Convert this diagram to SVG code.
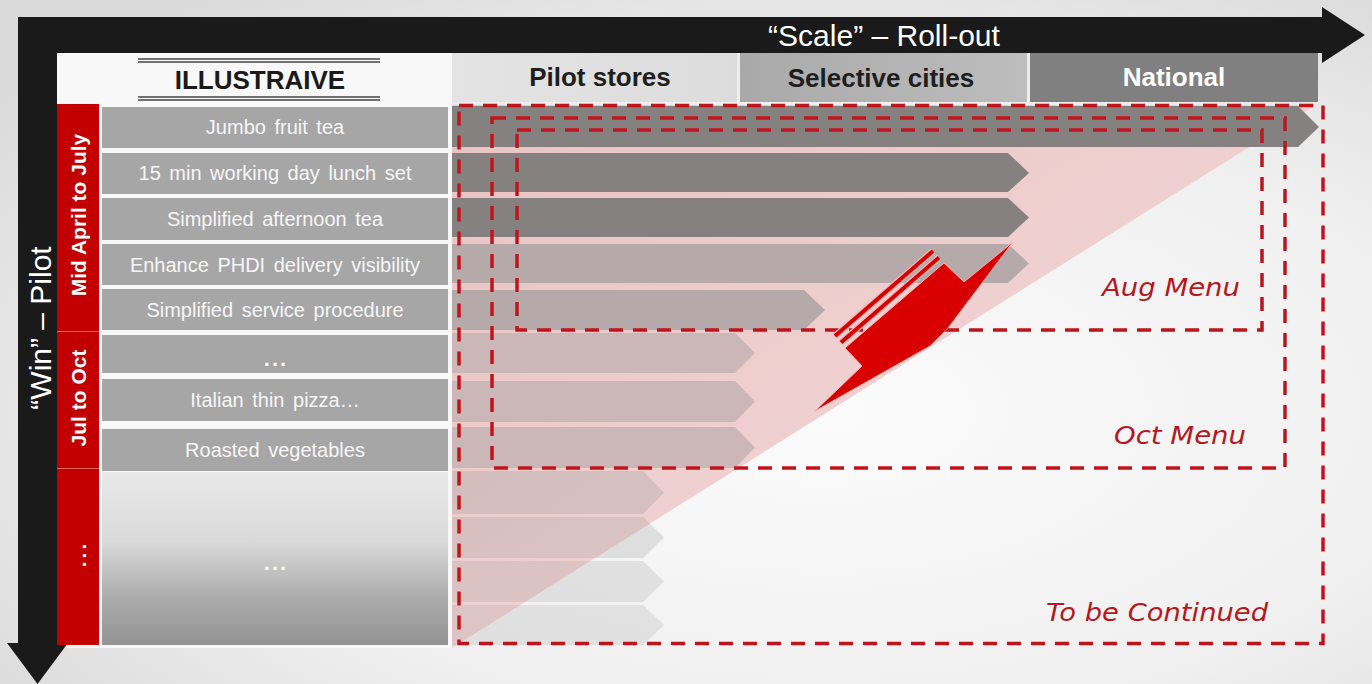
<svg xmlns="http://www.w3.org/2000/svg" width="1372" height="684" viewBox="0 0 1372 684">
  <defs>
    <radialGradient id="bg" cx="0.6" cy="0.6" r="0.75">
      <stop offset="0" stop-color="#fbfbfb"/>
      <stop offset="0.6" stop-color="#f0f0f0"/>
      <stop offset="1" stop-color="#dadada"/>
    </radialGradient>
    <linearGradient id="pink" x1="0" y1="0" x2="1" y2="1">
      <stop offset="0" stop-color="#e9c3c3"/>
      <stop offset="1" stop-color="#f5dcdc"/>
    </linearGradient>
    <linearGradient id="sel" x1="0" y1="0" x2="1" y2="0">
      <stop offset="0" stop-color="#a9a9a9"/>
      <stop offset="1" stop-color="#bdbdbd"/>
    </linearGradient>
    <linearGradient id="pil" x1="0" y1="0" x2="1" y2="0">
      <stop offset="0" stop-color="#e4e4e4"/>
      <stop offset="1" stop-color="#dcdcdc"/>
    </linearGradient>
    <linearGradient id="lastrow" x1="0" y1="0" x2="0" y2="1">
      <stop offset="0" stop-color="#e9e9e9"/>
      <stop offset="0.4" stop-color="#d9d9d9"/>
      <stop offset="0.75" stop-color="#a9a9a9"/>
      <stop offset="1" stop-color="#939393"/>
    </linearGradient>
    <style>
      .lbl { fill: #a6a6a6; }
      .lt { font-family: "Liberation Sans", Arial, sans-serif; font-size: 20px; fill: #f6f6f6; text-anchor: middle; word-spacing: 3px; }
      .dots { font-family: "Liberation Sans", Arial, sans-serif; font-size: 22px; font-weight: bold; fill: #f6f6f6; text-anchor: middle; letter-spacing: 2px; }
      .hd { font-family: "Liberation Sans", Arial, sans-serif; font-size: 26px; font-weight: bold; text-anchor: middle; }
      .rc { font-family: "Liberation Sans", Arial, sans-serif; font-size: 21px; font-weight: bold; fill: #ffffff; text-anchor: middle; }
      .ax { font-family: "Liberation Sans", Arial, sans-serif; font-size: 30px; fill: #ffffff; text-anchor: middle; }
      .dash { fill: none; stroke: #c0141c; stroke-width: 3.5; stroke-dasharray: 14 10; }
      .hand { font-family: "DejaVu Sans", sans-serif; font-style: italic; font-size: 24px; fill: #b51820; text-anchor: end; }
      .dk { fill: #868181; }
      .md { fill: #b6a9a9; }
      .lg { fill: #cbb7b7; }
      .tr { fill: #9a9a9a; }
    </style>
  </defs>

  <rect x="0" y="0" width="1372" height="684" fill="url(#bg)"/>

  <!-- panel behind labels -->
  <rect x="57" y="53" width="395" height="595" fill="#f8f8f8"/>

  <!-- axes -->
  <g id="axis-scale">
    <rect x="18" y="17" width="1305" height="36" fill="#1a1a1a"/>
    <polygon points="1322,7 1365,35 1322,63" fill="#1a1a1a"/>
    <text class="ax" x="884" y="46">“Scale” – Roll-out</text>
  </g>
  <g id="axis-win">
    <rect x="18" y="17" width="39" height="627" fill="#1a1a1a"/>
    <polygon points="7,643 68,643 37.5,684" fill="#1a1a1a"/>
    <text class="ax" transform="translate(51,328) rotate(-90)">“Win” – Pilot</text>
  </g>

  <!-- headers -->
  <g id="header-illustrative">
    <line x1="138" y1="59" x2="380" y2="59" stroke="#444" stroke-width="1.6"/>
    <line x1="138" y1="62" x2="380" y2="62" stroke="#444" stroke-width="1.6"/>
    <text class="hd" x="260" y="89" fill="#1a1a1a">ILLUSTRAIVE</text>
    <line x1="138" y1="97" x2="380" y2="97" stroke="#444" stroke-width="1.6"/>
    <line x1="138" y1="100" x2="380" y2="100" stroke="#444" stroke-width="1.6"/>
  </g>
  <g id="header-pilot">
    <rect x="452" y="53" width="285" height="49" fill="url(#pil)"/>
    <text class="hd" x="600" y="86" fill="#1e1e1e">Pilot stores</text>
  </g>
  <g id="header-selective">
    <rect x="740" y="53" width="287" height="49" fill="url(#sel)"/>
    <text class="hd" x="881" y="87" fill="#1e1e1e">Selective cities</text>
  </g>
  <g id="header-national">
    <rect x="1030" y="53" width="288" height="49" fill="#808080"/>
    <text class="hd" x="1174" y="86" fill="#ffffff">National</text>
  </g>

  <!-- period column -->
  <g id="period-1">
    <rect x="57" y="104" width="42" height="227" fill="#c20000"/>
    <text class="rc" transform="translate(86,215) rotate(-90)">Mid April to July</text>
  </g>
  <g id="period-2">
    <rect x="57" y="332" width="42" height="136" fill="#c20000"/>
    <text class="rc" transform="translate(86,398) rotate(-90)">Jul to Oct</text>
  </g>
  <g id="period-3">
    <rect x="57" y="469" width="42" height="176" fill="#c20000"/>
    <text class="rc" transform="translate(86,554) rotate(-90)" letter-spacing="3">...</text>
  </g>
  <line x1="57" y1="331.5" x2="99" y2="331.5" stroke="#e26060" stroke-width="1.2"/>
  <line x1="57" y1="468.5" x2="99" y2="468.5" stroke="#e26060" stroke-width="1.2"/>

  <!-- item labels -->
  <g id="item-1"><rect class="lbl" x="102" y="107" width="346" height="41"/><text class="lt" x="275" y="134">Jumbo fruit tea</text></g>
  <g id="item-2"><rect class="lbl" x="102" y="153" width="346" height="41"/><text class="lt" x="275" y="180">15 min working day lunch set</text></g>
  <g id="item-3"><rect class="lbl" x="102" y="198" width="346" height="42"/><text class="lt" x="275" y="226">Simplified afternoon tea</text></g>
  <g id="item-4"><rect class="lbl" x="102" y="244" width="346" height="41"/><text class="lt" x="275" y="272">Enhance PHDI delivery visibility</text></g>
  <g id="item-5"><rect class="lbl" x="102" y="289" width="346" height="41"/><text class="lt" x="275" y="317">Simplified service procedure</text></g>
  <g id="item-6"><rect class="lbl" x="102" y="335" width="346" height="38"/><text class="dots" x="276" y="366">...</text></g>
  <g id="item-7"><rect class="lbl" x="102" y="379" width="346" height="42"/><text class="lt" x="275" y="407">Italian thin pizza…</text></g>
  <g id="item-8"><rect class="lbl" x="102" y="429" width="346" height="42"/><text class="lt" x="275" y="457">Roasted vegetables</text></g>
  <g id="item-9"><rect x="102" y="472" width="346" height="173" fill="url(#lastrow)"/><text class="dots" x="276" y="570">...</text></g>

  <!-- pink scale triangle -->
  <polygon id="scale-triangle" points="452,105 1316,105 452,648" fill="url(#pink)"/>

  <!-- roll-out bars -->
  <g id="bars">
    <path class="dk" d="M452,106 H1298 L1319,127 L1298,147 H452 Z"/>
    <path class="dk" d="M452,153 H1008 L1029,173 L1008,192 H452 Z"/>
    <path class="dk" d="M452,198 H1008 L1029,217.5 L1008,237 H452 Z"/>
    <path class="md" d="M452,244 H1008 L1029,263.5 L1008,283 H452 Z"/>
    <path class="md" d="M452,290 H804 L825,310 L804,330 H452 Z"/>
    <path class="lg" d="M452,333 H735 L755,353 L735,373 H452 Z"/>
    <path class="lg" d="M452,381 H735 L755,401.5 L735,422 H452 Z"/>
    <path class="lg" d="M452,427 H735 L755,447.5 L735,468 H452 Z"/>
    <path class="tr" opacity="0.3" d="M452,471 H643 L664,492.5 L643,514 H452 Z"/>
    <path class="tr" opacity="0.25" d="M452,517 H643 L664,537.5 L643,558 H452 Z"/>
    <path class="tr" opacity="0.22" d="M452,561 H643 L664,581.5 L643,602 H452 Z"/>
    <path class="tr" opacity="0.2" d="M452,605 H643 L664,625 L643,645 H452 Z"/>
  </g>

  <!-- menu boundaries -->
  <g id="menu-continued">
    <rect class="dash" x="459" y="105.5" width="864" height="538"/>
    <text class="hand" x="1268" y="621" textLength="222" lengthAdjust="spacingAndGlyphs">To be Continued</text>
  </g>
  <g id="menu-oct">
    <rect class="dash" x="492" y="118" width="793" height="350"/>
    <text class="hand" x="1246" y="444" textLength="132" lengthAdjust="spacingAndGlyphs">Oct Menu</text>
  </g>
  <g id="menu-aug">
    <rect class="dash" x="517" y="130" width="745" height="200"/>
    <text class="hand" x="1240" y="296" textLength="138" lengthAdjust="spacingAndGlyphs">Aug Menu</text>
  </g>

  <!-- red arrow -->
  <g id="red-arrow">
    <line x1="933" y1="251" x2="835" y2="336" stroke="#f2b8b8" stroke-width="6.5"/>
    <line x1="933" y1="251" x2="835" y2="336" stroke="#d80000" stroke-width="4"/>
    <line x1="939" y1="257.5" x2="841" y2="342.5" stroke="#f2b8b8" stroke-width="6.5"/>
    <line x1="939" y1="257.5" x2="841" y2="342.5" stroke="#d80000" stroke-width="4"/>
    <polygon points="944,263 964,282 1013,242 948,328 930,346 815,411 862,366 845,348" fill="#d80000" stroke="#f0b0b0" stroke-width="1"/>
  </g>
</svg>
